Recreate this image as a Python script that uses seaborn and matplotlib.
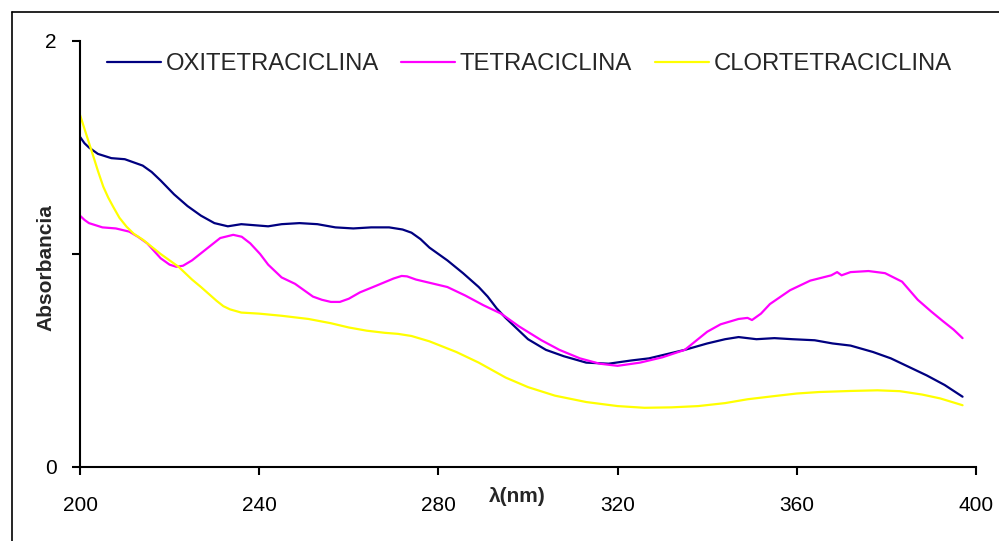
import matplotlib
matplotlib.use("Agg")
import matplotlib.pyplot as plt
from matplotlib.lines import Line2D
import pandas as pd
import seaborn as sns

# Absorption spectra of three tetracyclines (wavelength in nm, absorbance)
oxi_nm = [200, 201, 202, 204, 207, 210, 212, 214, 216, 218, 221, 224, 227, 230,
          233, 236, 239, 242, 245, 249, 253, 257, 261, 265, 269, 272, 274, 276,
          278, 282, 285.5, 289, 291, 293, 295, 297, 300, 304, 308, 313, 318,
          323, 327, 331, 335, 340, 344, 347, 349, 351, 355, 359, 364, 368, 372,
          377, 381, 385, 389, 393, 397]
oxi_abs = [1.55, 1.52, 1.50, 1.47, 1.45, 1.445, 1.43, 1.415, 1.385, 1.345, 1.28,
           1.225, 1.18, 1.145, 1.13, 1.14, 1.135, 1.13, 1.14, 1.145, 1.14, 1.125,
           1.12, 1.125, 1.125, 1.115, 1.10, 1.07, 1.03, 0.97, 0.91, 0.845, 0.80,
           0.745, 0.70, 0.66, 0.60, 0.55, 0.52, 0.49, 0.485, 0.50, 0.51, 0.53,
           0.55, 0.58, 0.60, 0.61, 0.605, 0.60, 0.605, 0.60, 0.595, 0.58, 0.57,
           0.54, 0.51, 0.47, 0.43, 0.385, 0.33]

tetra_nm = [200, 201, 202, 205, 208, 211, 213, 215, 218, 220, 221.5, 223, 225,
            228, 231.3, 234.2, 236.1, 238, 240.2, 242, 245, 248, 252, 254, 256,
            258, 260, 262.5, 266, 270, 271.8, 273, 275, 277, 282, 286, 290, 294,
            298, 303, 307, 311.6, 316, 320, 325, 330, 335, 340, 343, 347, 349,
            350, 352, 354, 358.5, 363, 367.7, 369, 370, 372, 376, 379.7, 383.5,
            387, 390, 392.6, 395, 397]
tetra_abs = [1.18, 1.16, 1.145, 1.125, 1.12, 1.105, 1.08, 1.05, 0.98, 0.95, 0.94,
             0.945, 0.97, 1.02, 1.075, 1.09, 1.081, 1.05, 1.0, 0.95, 0.89, 0.86,
             0.80, 0.785, 0.775, 0.775, 0.79, 0.82, 0.85, 0.885, 0.897, 0.895,
             0.88, 0.87, 0.845, 0.805, 0.76, 0.72, 0.66, 0.595, 0.55, 0.51, 0.485,
             0.475, 0.49, 0.515, 0.55, 0.635, 0.67, 0.695, 0.70, 0.69, 0.72,
             0.765, 0.83, 0.875, 0.90, 0.915, 0.90, 0.915, 0.92, 0.91, 0.87,
             0.785, 0.73, 0.685, 0.645, 0.605]

clor_nm = [200, 201.5, 203, 204, 205.2, 206.3, 207.4, 208.8, 210.4, 212, 214.1,
           218, 222, 225, 227, 230.5, 232, 233.5, 236, 240, 245, 251, 256, 260,
           264, 268, 271, 274, 278, 284, 289, 295, 300, 306, 313, 320, 326, 332,
           338, 344, 349, 355, 360, 365, 372, 378, 383, 388, 392, 397]
clor_abs = [1.653, 1.555, 1.457, 1.39, 1.316, 1.265, 1.222, 1.17, 1.128, 1.095,
            1.066, 1.0, 0.94, 0.88, 0.845, 0.78, 0.755, 0.74, 0.725, 0.72, 0.71,
            0.695, 0.675, 0.655, 0.64, 0.63, 0.625, 0.615, 0.59, 0.54, 0.49,
            0.42, 0.375, 0.335, 0.305, 0.286, 0.278, 0.28, 0.286, 0.30, 0.318,
            0.333, 0.345, 0.352, 0.357, 0.36, 0.356, 0.34, 0.322, 0.29]

series_names = ["OXITETRACICLINA", "TETRACICLINA", "CLORTETRACICLINA"]
series_colors = ["#000080", "#FF00FF", "#FFFF00"]
x_ticks = [200, 240, 280, 320, 360, 400]
y_ticks = [0, 1, 2]
y_tick_labels = ["0", "", "2"]

frames = []
for name, xs, ys in zip(series_names,
                        [oxi_nm, tetra_nm, clor_nm],
                        [oxi_abs, tetra_abs, clor_abs]):
    frames.append(pd.DataFrame({"nm": xs, "abs": ys, "compuesto": name}))
data = pd.concat(frames, ignore_index=True)

sns.set_style("white")
plt.rcParams["font.family"] = ["Liberation Sans", "DejaVu Sans"]

fig = plt.figure(figsize=(9.99, 5.41), dpi=100)
ax = fig.add_axes([80 / 999, 1 - 467 / 541, (976 - 80) / 999, (467 - 41) / 541])

sns.lineplot(data=data, x="nm", y="abs", hue="compuesto",
             hue_order=series_names,
             palette=dict(zip(series_names, series_colors)),
             estimator=None, sort=False, linewidth=1.6, ax=ax, legend=False)
for ln in ax.get_lines():
    ln.set_solid_joinstyle("round")

ax.set_xlim(200, 400)
ax.set_ylim(0, 2)
ax.set_xticks(x_ticks)
ax.set_yticks(y_ticks)
ax.set_yticklabels(y_tick_labels)
ax.set_xlabel("")
ax.set_ylabel("")

for side in ("top", "right"):
    ax.spines[side].set_visible(False)
for side in ("left", "bottom"):
    ax.spines[side].set_color("black")
    ax.spines[side].set_linewidth(1.5)

ax.tick_params(axis="both", which="major", direction="out", length=6,
               width=1.5, color="black", labelsize=15, labelcolor="black",
               bottom=True, left=True)
ax.tick_params(axis="x", pad=15)
ax.tick_params(axis="y", pad=11)
for lbl in ax.get_xticklabels() + ax.get_yticklabels():
    lbl.set_clip_on(False)

# axis titles
fig.text(46 / 999, 1 - 268 / 541, "Absorbancia", rotation=90, ha="center",
         va="center", fontsize=15, fontweight="bold")
fig.text(517 / 999, 1 - 496 / 541, "λ(nm)", ha="center", va="center",
         fontsize=15, fontweight="bold")

# legend in one row along the top
handles = [Line2D([0], [0], color=c, linewidth=1.6) for c in series_colors]
fig.legend(handles, series_names, loc="center left",
           bbox_to_anchor=(107 / 999, 1 - 64 / 541),
           bbox_transform=fig.transFigure, ncol=3, frameon=False,
           fontsize=17.2, handlelength=2.25, handletextpad=0.2,
           columnspacing=0.95, borderpad=0, borderaxespad=0)

# chart area border
fig.add_artist(Line2D([11.5 / 999, 11.5 / 999], [0, 1 - 12 / 541],
                      transform=fig.transFigure, color="black", linewidth=1.2))
fig.add_artist(Line2D([11.5 / 999, 1], [1 - 12 / 541, 1 - 12 / 541],
                      transform=fig.transFigure, color="black", linewidth=1.2))

fig.savefig("out.png", dpi=100)
